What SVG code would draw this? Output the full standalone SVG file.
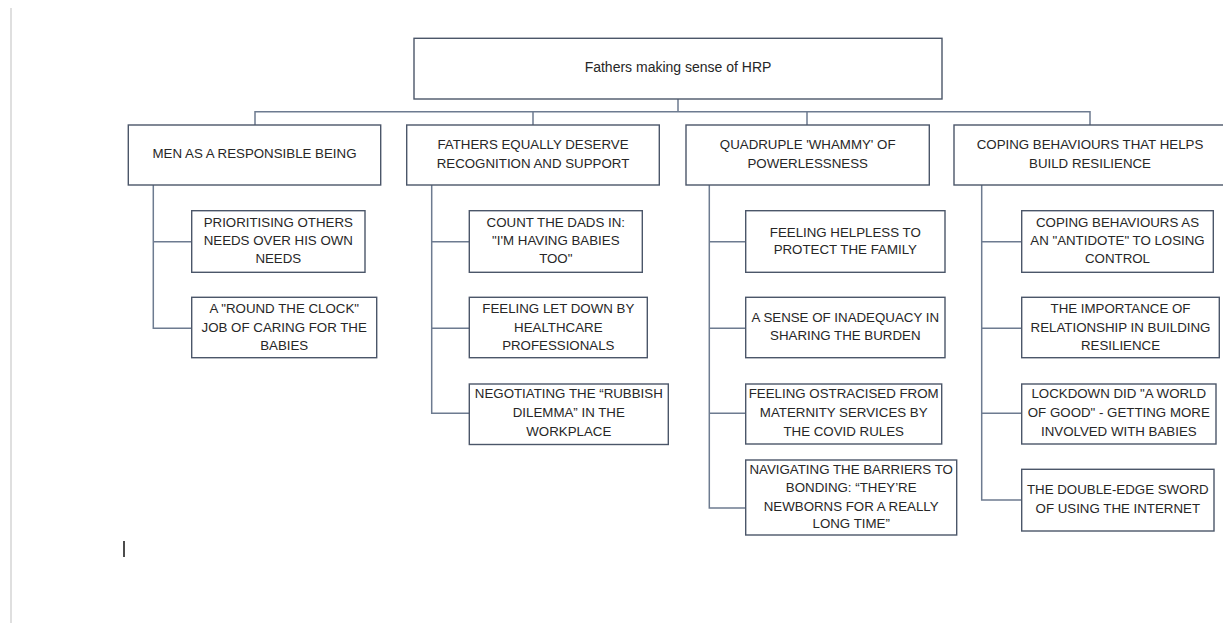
<svg xmlns="http://www.w3.org/2000/svg" width="1223" height="623" viewBox="0 0 1223 623">
<style>
.bg{fill:#ffffff}
.box{fill:#ffffff;stroke:#4b5669;stroke-width:1.4}
.con{fill:none;stroke:#6d7b90;stroke-width:1.5}
.t{font-family:"Liberation Sans",Arial,sans-serif;font-size:13.3px;fill:#262626;text-anchor:middle}
.root{font-size:14px}
.edge{stroke:#d4d4d4;stroke-width:1.5}
.cursor{stroke:#111111;stroke-width:1.5}
</style>
<rect class="bg" x="0" y="0" width="1223" height="623"/>
<line class="edge" x1="11" y1="8" x2="11" y2="623"/>
<line class="cursor" x1="124" y1="541" x2="124" y2="557"/>

<g id="connectors">
<path class="con" d="M678 99V111.7M255 125V111.7H1090V125M533 111.7V125M807 111.7V125"/>
<path class="con" d="M153.3 185V328.3H191.7M153.3 241.7H191.7"/>
<path class="con" d="M431.7 185V413.3H469.3M431.7 241.7H469.3M431.7 328.3H469.3"/>
<path class="con" d="M709.3 185V508H745.7M709.3 241.7H745.7M709.3 328.3H745.7M709.3 413.3H745.7"/>
<path class="con" d="M981.7 185V500H1021.7M981.7 241.7H1021.7M981.7 328.3H1021.7M981.7 413.3H1021.7"/>
</g>

<g id="root">
<rect class="box" x="414" y="38.3" width="528" height="60.7"/>
<text class="t root" x="678" y="72">Fathers making sense of HRP</text>
</g>

<g id="h1">
<rect class="box" x="128.3" y="125" width="252.4" height="60"/>
<text class="t" x="254.5" y="158">MEN AS A RESPONSIBLE BEING</text>
</g>
<g id="h2">
<rect class="box" x="406.7" y="125" width="252.6" height="60"/>
<text class="t" x="533" y="149">FATHERS EQUALLY DESERVE</text>
<text class="t" x="533" y="167.5">RECOGNITION AND SUPPORT</text>
</g>
<g id="h3">
<rect class="box" x="686" y="125" width="243.3" height="60"/>
<text class="t" x="807.7" y="149">QUADRUPLE 'WHAMMY' OF</text>
<text class="t" x="807.7" y="167.5">POWERLESSNESS</text>
</g>
<g id="h4">
<rect class="box" x="954" y="125" width="272" height="60"/>
<text class="t" x="1090" y="149">COPING BEHAVIOURS THAT HELPS</text>
<text class="t" x="1090" y="167.5">BUILD RESILIENCE</text>
</g>

<g id="c1a">
<rect class="box" x="191.7" y="210.7" width="173.3" height="61.6"/>
<text class="t" x="278.3" y="226.5">PRIORITISING OTHERS</text>
<text class="t" x="278.3" y="244.8">NEEDS OVER HIS OWN</text>
<text class="t" x="278.3" y="263.1">NEEDS</text>
</g>
<g id="c1b">
<rect class="box" x="191.7" y="297.3" width="185" height="60.4"/>
<text class="t" x="284.2" y="313">A "ROUND THE CLOCK"</text>
<text class="t" x="284.2" y="331.5">JOB OF CARING FOR THE</text>
<text class="t" x="284.2" y="349.5">BABIES</text>
</g>

<g id="c2a">
<rect class="box" x="469.3" y="210.7" width="173" height="61.6"/>
<text class="t" x="555.8" y="226.5">COUNT THE DADS IN:</text>
<text class="t" x="555.8" y="244.8">"I'M HAVING BABIES</text>
<text class="t" x="555.8" y="263.1">TOO"</text>
</g>
<g id="c2b">
<rect class="box" x="469.3" y="297.3" width="178" height="60.4"/>
<text class="t" x="558.3" y="313">FEELING LET DOWN BY</text>
<text class="t" x="558.3" y="331.5">HEALTHCARE</text>
<text class="t" x="558.3" y="349.5">PROFESSIONALS</text>
</g>
<g id="c2c">
<rect class="box" x="469.3" y="384" width="199" height="60.5"/>
<text class="t" x="568.8" y="398">NEGOTIATING THE “RUBBISH</text>
<text class="t" x="568.8" y="417">DILEMMA” IN THE</text>
<text class="t" x="568.8" y="435.5">WORKPLACE</text>
</g>

<g id="c3a">
<rect class="box" x="745.7" y="210.7" width="199.3" height="61.6"/>
<text class="t" x="845.3" y="236.5">FEELING HELPLESS TO</text>
<text class="t" x="845.3" y="254">PROTECT THE FAMILY</text>
</g>
<g id="c3b">
<rect class="box" x="745.7" y="297.3" width="199.3" height="60.4"/>
<text class="t" x="845.3" y="322">A SENSE OF INADEQUACY IN</text>
<text class="t" x="845.3" y="340">SHARING THE BURDEN</text>
</g>
<g id="c3c">
<rect class="box" x="745.7" y="384" width="196" height="60"/>
<text class="t" x="843.7" y="398">FEELING OSTRACISED FROM</text>
<text class="t" x="843.7" y="417">MATERNITY SERVICES BY</text>
<text class="t" x="843.7" y="435.5">THE COVID RULES</text>
</g>
<g id="c3d">
<rect class="box" x="745.7" y="460" width="211" height="75"/>
<text class="t" x="851.2" y="474">NAVIGATING THE BARRIERS TO</text>
<text class="t" x="851.2" y="492.3">BONDING: “THEY’RE</text>
<text class="t" x="851.2" y="510.5">NEWBORNS FOR A REALLY</text>
<text class="t" x="851.2" y="528.3">LONG TIME”</text>
</g>

<g id="c4a">
<rect class="box" x="1021.7" y="210.7" width="191.6" height="61.6"/>
<text class="t" x="1117.5" y="226.5">COPING BEHAVIOURS AS</text>
<text class="t" x="1117.5" y="244.8">AN "ANTIDOTE" TO LOSING</text>
<text class="t" x="1117.5" y="263.1">CONTROL</text>
</g>
<g id="c4b">
<rect class="box" x="1021.7" y="297.3" width="197.6" height="60.4"/>
<text class="t" x="1120.5" y="313">THE IMPORTANCE OF</text>
<text class="t" x="1120.5" y="331.5">RELATIONSHIP IN BUILDING</text>
<text class="t" x="1120.5" y="349.5">RESILIENCE</text>
</g>
<g id="c4c">
<rect class="box" x="1021.7" y="384" width="194.3" height="60"/>
<text class="t" x="1118.8" y="398">LOCKDOWN DID "A WORLD</text>
<text class="t" x="1118.8" y="417">OF GOOD" - GETTING MORE</text>
<text class="t" x="1118.8" y="435.5">INVOLVED WITH BABIES</text>
</g>
<g id="c4d">
<rect class="box" x="1021.7" y="469.3" width="192.3" height="61.7"/>
<text class="t" x="1117.8" y="494">THE DOUBLE-EDGE SWORD</text>
<text class="t" x="1117.8" y="513">OF USING THE INTERNET</text>
</g>
</svg>
